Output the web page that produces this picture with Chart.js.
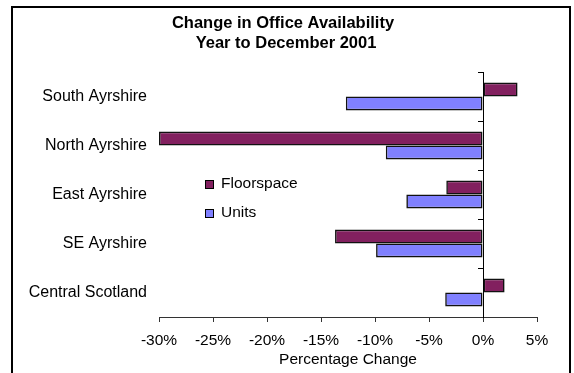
<!DOCTYPE html>
<html>
<head>
<meta charset="utf-8">
<script src="https://cdn.jsdelivr.net/npm/chart.js@4/dist/chart.umd.min.js"></script>
<style>
  html, body { margin: 0; padding: 0; background: #fff; }
  canvas { display: block; }
</style>
</head>
<body>
<canvas id="office-chart" width="574" height="373"></canvas>
<script>
const areas = ["South Ayrshire", "North Ayrshire", "East Ayrshire", "SE Ayrshire", "Central Scotland"];
const floorspace = [3.2, -30.0, -3.4, -13.7, 2.0];
const units = [-12.7, -9.0, -7.1, -9.9, -3.5];
const titleLines = ["Change in Office Availability", "Year to December 2001"];
const axisTitle = "Percentage Change";

const family = "'Liberation Sans', Arial, sans-serif";
const labelFont = { family: family, size: 15.5 };

// open-bottomed frame and the two-line heading
const framePlugin = {
  id: "frame",
  beforeDraw(chart) {
    const ctx = chart.ctx;
    ctx.save();
    ctx.strokeStyle = "#000";
    ctx.lineWidth = 2;
    ctx.beginPath();
    ctx.moveTo(12, 400);
    ctx.lineTo(12, 7);
    ctx.lineTo(570, 7);
    ctx.lineTo(570, 400);
    ctx.stroke();
    ctx.fillStyle = "#000";
    ctx.font = "bold 16.5px " + family;
    ctx.textAlign = "center";
    ctx.textBaseline = "alphabetic";
    ctx.fillText(titleLines[0], 283, 28);
    ctx.fillText(titleLines[1], 286, 47.5);
    ctx.restore();
  }
};

// legend sits inside the plot area, left of the bars
const insetLegend = {
  id: "insetLegend",
  afterDatasetsDraw(chart) {
    const ctx = chart.ctx;
    const area = chart.chartArea;
    ctx.save();
    ctx.font = "15.5px " + family;
    ctx.textBaseline = "middle";
    ctx.textAlign = "left";
    chart.data.datasets.forEach((ds, i) => {
      const x = Math.round(area.left + 46);
      const y = Math.round(area.top + 112 + i * 28.7);
      ctx.fillStyle = ds.backgroundColor;
      ctx.fillRect(x, y - 4, 9, 9);
      ctx.strokeStyle = "#000";
      ctx.lineWidth = 1;
      ctx.strokeRect(x + 0.5, y - 3.5, 8, 8);
      ctx.fillStyle = "#000";
      ctx.fillText(ds.label, x + 16, y);
    });
    ctx.restore();
  }
};

new Chart(document.getElementById("office-chart"), {
  type: "bar",
  data: {
    labels: areas,
    datasets: [
      { label: "Floorspace", data: floorspace, backgroundColor: "#82205F" },
      { label: "Units", data: units, backgroundColor: "#8080FF" }
    ]
  },
  options: {
    indexAxis: "y",
    responsive: false,
    animation: false,
    devicePixelRatio: 1,
    layout: { padding: { left: 12, right: 37, top: 72, bottom: 0 } },
    datasets: {
      bar: {
        borderColor: "#111",
        borderWidth: 1.6,
        borderSkipped: false,
        categoryPercentage: 0.57,
        barPercentage: 1
      }
    },
    plugins: {
      legend: { display: false },
      tooltip: { enabled: false }
    },
    scales: {
      x: {
        min: -30,
        max: 5,
        ticks: {
          stepSize: 5,
          callback: (v) => v + "%",
          color: "#000",
          font: labelFont,
          padding: 9,
          maxRotation: 0
        },
        grid: { drawOnChartArea: false, tickLength: 5, color: "#333" },
        border: { color: "#333" },
        title: {
          display: true,
          text: axisTitle,
          color: "#000",
          font: labelFont,
          padding: { top: 2, bottom: 4 }
        },
        afterFit(scale) { scale.height = 56; }
      },
      y: {
        grid: { display: false, drawTicks: false },
        border: { display: false },
        ticks: { color: "#000", font: { family: family, size: 16 }, padding: 12 },
        afterFit(scale) { scale.width = 147; }
      },
      // the zero line with its category tick marks
      y2: {
        axis: "y",
        type: "category",
        position: { x: 0 },
        offset: true,
        grid: { offset: true, drawOnChartArea: false, tickLength: 5, color: "#000" },
        border: { color: "#000" },
        ticks: { display: false }
      }
    }
  },
  plugins: [framePlugin, insetLegend]
});
</script>
</body>
</html>
